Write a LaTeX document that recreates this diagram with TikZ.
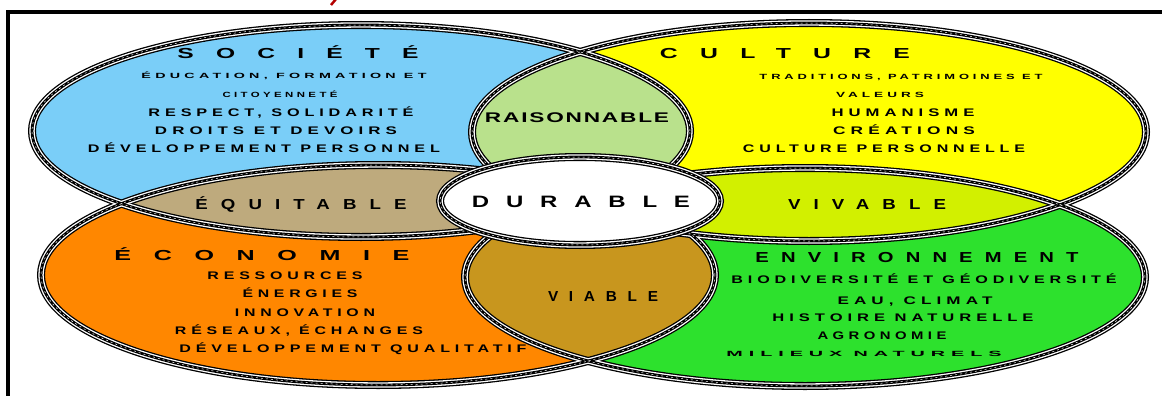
\documentclass[tikz,border=0pt]{standalone}
\usepackage{fontspec}
\setmainfont{Liberation Sans}
\definecolor{csoc}{RGB}{122,206,248}
\definecolor{ccul}{RGB}{255,255,0}
\definecolor{ceco}{RGB}{255,135,0}
\definecolor{cenv}{RGB}{45,225,45}
\definecolor{crai}{RGB}{185,225,140}
\definecolor{cequ}{RGB}{190,170,125}
\definecolor{cviv}{RGB}{210,240,0}
\definecolor{cvia}{RGB}{200,150,30}
\definecolor{cred}{RGB}{180,0,0}
\newcommand\W[2]{\resizebox{#1pt}{\height}{#2}}
\newcommand\soc{(361,131) ellipse [x radius=329pt, y radius=106pt]}
\newcommand\cul{(809,132) ellipse [x radius=337pt, y radius=109pt]}
\newcommand\eco{(378,275) ellipse [x radius=337pt, y radius=110pt]}
\newcommand\env{(805,277) ellipse [x radius=340pt, y radius=109pt]}
\newcommand\dur{(580,201) ellipse [x radius=140pt, y radius=44pt]}
\tikzset{
  ringa/.style={draw=black, line width=8pt},
  ringb/.style={draw=white, line width=5.4pt},
  ringc/.style={draw=black, line width=2.8pt},
  ringd/.style={draw=white, line width=0.5pt, dash pattern=on 2pt off 3pt},
  ttl/.style={font=\bfseries\fontsize{14.5}{14.5}\selectfont\addfontfeature{LetterSpace=#1}, inner sep=0pt, anchor=base},
  ttl/.default=90,
  big/.style={font=\bfseries\fontsize{16.5}{16.5}\selectfont\addfontfeature{LetterSpace=70}, inner sep=0pt, anchor=base},
  sub/.style={font=\bfseries\fontsize{11}{11}\selectfont\addfontfeature{LetterSpace=30}, inner sep=0pt, anchor=base},
  tny/.style={font=\bfseries\fontsize{7.5}{7.5}\selectfont\addfontfeature{LetterSpace=30}, inner sep=0pt, anchor=base},
  rai/.style={font=\bfseries\fontsize{14}{14}\selectfont\addfontfeature{LetterSpace=8}, inner sep=0pt, anchor=base},
}
\begin{document}
\begin{tikzpicture}[x=1pt,y=-1pt]
\useasboundingbox (0,0) rectangle (1162,396);
\fill[white] (0,0) rectangle (1162,396);
% frame and red mark
\draw[line width=3.2pt] (8,400) -- (8,12) -- (1166,12);
\draw[cred, line width=2.5pt] (336,-1) -- (331,5);
% main fills
\fill[csoc] \soc;
\fill[ccul] \cul;
\fill[ceco] \eco;
\fill[cenv] \env;
% overlaps
\begin{scope}\clip \soc; \fill[crai] \cul; \end{scope}
\begin{scope}\clip \soc; \fill[cequ] \eco; \end{scope}
\begin{scope}\clip \cul; \fill[cviv] \env; \end{scope}
\begin{scope}\clip \eco; \fill[cvia] \env; \end{scope}
% outlines
\foreach \s in {ringa,ringb,ringc,ringd}{
  \path[\s] \soc; \path[\s] \cul; \path[\s] \eco; \path[\s] \env;
}
% centre
\fill[white] \dur;
\foreach \s in {ringa,ringb,ringc,ringd}{ \path[\s] \dur; }
% Societe
\node[ttl] (socT) at (298,59) {\W{241}{SOCIÉTÉ}};
\node[tny] (soc1) at (284,79) {\W{285}{ÉDUCATION, FORMATION ET}};
\node[tny] (soc2) at (280,97) {\W{115}{CITOYENNETÉ}};
\node[sub] (soc3) at (281,116.5) {\W{265}{RESPECT, SOLIDARITÉ}};
\node[sub] (soc4) at (276,134.5) {\W{242}{DROITS ET DEVOIRS}};
\node[sub] (soc5) at (264,152.5) {\W{352}{DÉVELOPPEMENT PERSONNEL}};
% Culture
\node[ttl] (culT) at (785,58) {\W{250}{CULTURE}};
\node[tny] (cul1) at (901,79) {\W{283}{TRADITIONS, PATRIMOINES ET}};
\node[tny] (cul2) at (880,97) {\W{88}{VALEURS}};
\node[sub] (cul3) at (903,116.5) {\W{143}{HUMANISME}};
\node[sub] (cul4) at (904,134.5) {\W{142}{CRÉATIONS}};
\node[sub] (cul5) at (884,152.5) {\W{282}{CULTURE PERSONNELLE}};
% Economie
\node[ttl] (ecoT) at (262,260) {\W{295}{ÉCONOMIE}};
\node[sub] (eco1) at (285,279.5) {\W{155}{RESSOURCES}};
\node[sub] (eco2) at (300,297.5) {\W{115}{ÉNERGIES}};
\node[sub] (eco3) at (305,316.5) {\W{140}{INNOVATION}};
\node[sub] (eco4) at (299,334.5) {\W{248}{RÉSEAUX, ÉCHANGES}};
\node[sub] (eco5) at (353,352.5) {\W{347}{DÉVELOPPEMENT QUALITATIF}};
% Environnement
\node[ttl=60] (envT) at (917,262) {\W{323}{ENVIRONNEMENT}};
\node[sub] (env1) at (924,283.5) {\W{385}{BIODIVERSITÉ ET GÉODIVERSITÉ}};
\node[sub] (env2) at (915,304) {\W{155}{EAU, CLIMAT}};
\node[sub] (env3) at (903,321.5) {\W{261}{HISTOIRE NATURELLE}};
\node[sub] (env4) at (882,339.5) {\W{129}{AGRONOMIE}};
\node[tny] (env5) at (864,356.5) {\W{275}{MILIEUX NATURELS}};
% intersections
\node[rai] (raison) at (577,122) {\W{184}{RAISONNABLE}};
\node[ttl=70] (equi) at (301,209) {\W{211}{ÉQUITABLE}};
\node[big] (durable) at (581,207.5) {\W{218}{DURABLE}};
\node[ttl=70] (vivable) at (867,209) {\W{158}{VIVABLE}};
\node[ttl=70] (viable) at (603,301) {\W{110}{VIABLE}};
\end{tikzpicture}
\end{document}
